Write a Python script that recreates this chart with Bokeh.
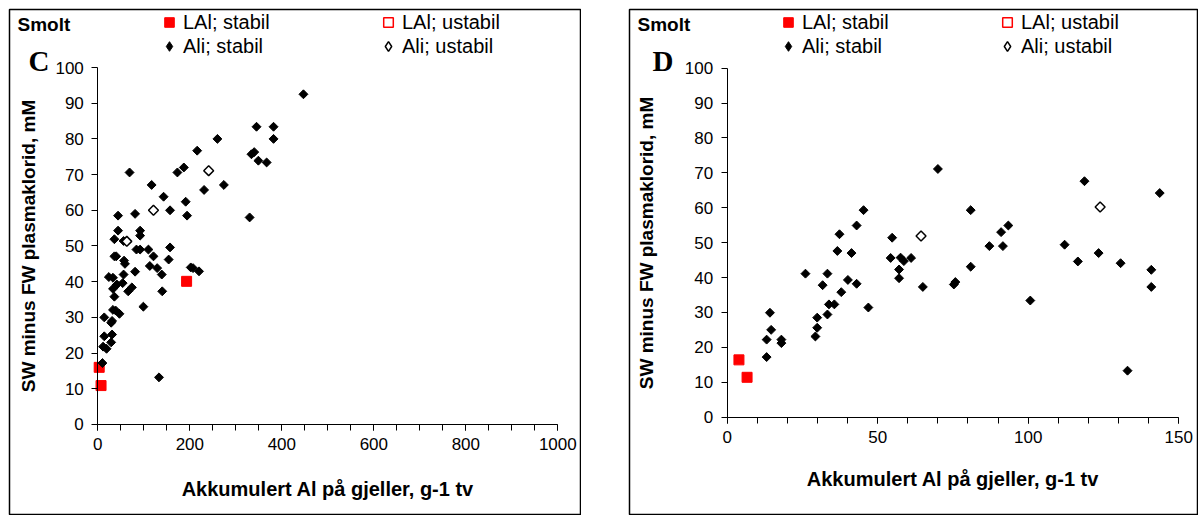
import math

from bokeh.embed import file_html
from bokeh.layouts import column, row
from bokeh.models import Label, Legend, LegendItem, Range1d, SingleIntervalTicker, Spacer
from bokeh.plotting import figure
from bokeh.resources import INLINE

# panel C: akkumulert Al, skala 0-1000
c_lal_stabil_x = [3, 7, 193]
c_lal_stabil_y = [16, 10.9, 40.1]
c_lal_ustabil_x = []
c_lal_ustabil_y = []
c_ali_stabil_x = [447, 345, 382, 260, 382, 216, 334, 340, 349, 367, 69, 173, 187, 117, 274, 231,
                  143, 191, 157, 44, 81, 194, 330, 44, 92, 92, 36, 56, 84, 92, 110, 157, 36, 40,
                  121, 57, 59, 154, 81, 113, 129, 139, 202, 207, 220, 24, 33, 56, 41.5, 33, 54,
                  66, 74, 36, 140, 99, 33, 39, 47, 14, 31, 29, 14, 31, 29, 11.5, 19, 10, 133]
c_ali_stabil_y = [92.5, 83.4, 83.4, 80, 80, 76.7, 75.7, 76.3, 73.9, 73.4, 70.6, 70.6, 72, 67.1, 67.1,
                  65.7, 63.8, 62.4, 60, 58.5, 59, 58.5, 58, 54.3, 54.3, 52.9, 51.9, 51.4, 49, 49, 49,
                  49.6, 47.1, 47.1, 47.1, 45.9, 45, 46.2, 42.8, 44.4, 43.8, 42, 44, 43.8, 42.9, 41.3,
                  41.1, 42, 39.2, 38, 39.6, 37.3, 38.4, 35.8, 37.3, 33, 32.1, 31.9, 31, 30, 29, 28.5,
                  24.7, 25.2, 23, 21.8, 21.2, 17.2, 13.2]
c_ali_ustabil_x = [241, 121, 63]
c_ali_ustabil_y = [71.1, 60, 51.3]

# panel D: akkumulert Al, skala 0-150
d_lal_stabil_x = [3.9, 6.6]
d_lal_stabil_y = [16.4, 11.4]
d_lal_ustabil_x = []
d_lal_ustabil_y = []
d_ali_stabil_x = [13.1, 13.1, 14.2, 14.6, 18, 18, 26, 29.3, 29.9, 29.9, 31.7, 33.3, 33.3, 33.8, 35.6,
                  36.6, 37.3, 37.9, 40.1, 41.3, 43, 43, 45.3, 46.9, 54.8, 54.3, 57.6, 58.7, 57.1,
                  57.1, 61.1, 65, 70, 75.3, 75.8, 80.9, 80.9, 87.1, 91, 91.6, 93.4, 100.7, 112.1,
                  116.5, 118.7, 123.4, 130.7, 133, 140.9, 140.9, 143.7]
d_ali_stabil_y = [17.2, 22.2, 29.9, 25, 22.2, 21.2, 41.1, 23.1, 25.6, 28.5, 37.8, 29.4, 41.1, 32.3,
                  32.3, 47.6, 52.4, 35.8, 39.3, 47, 38.2, 54.9, 59.3, 31.4, 51.4, 45.6, 45.7, 44.7,
                  42.3, 39.8, 45.6, 37.3, 71.1, 38, 38.7, 59.3, 43.1, 49, 53, 49, 54.9, 33.4, 49.4,
                  44.6, 67.6, 47, 44.1, 13.3, 42.2, 37.3, 64.2]
d_ali_ustabil_x = [64.4, 123.9]
d_ali_ustabil_y = [51.9, 60.2]

x_title = "Akkumulert Al på gjeller, g-1 tv"
y_title = "SW minus FW plasmaklorid, mM"

FONT = "Liberation Sans"
NAN = [math.nan]


def panel(letter, lal_s, lal_u, ali_s, ali_u, width, xr, yr, x_max, x_step, x_minor,
          xt_y, yl_standoff, letter_x, leg_x):
    p = figure(frame_width=width, frame_height=506, min_border=1, min_border_bottom=0,
               x_range=Range1d(*xr), y_range=Range1d(*yr),
               output_backend="svg", toolbar_location=None)
    p.outline_line_color = "black"
    p.outline_line_width = 1.5
    p.grid.visible = False

    # Excel-style axes crossing at 0, drawn inside the framed box
    p.xaxis.fixed_location = 0
    p.yaxis.fixed_location = 0
    p.xaxis.bounds = (0, x_max)
    p.yaxis.bounds = (0, 100)
    p.xaxis.ticker = SingleIntervalTicker(interval=x_step, num_minor_ticks=x_minor)
    p.yaxis.ticker = SingleIntervalTicker(interval=10, num_minor_ticks=0)
    for ax in (p.xaxis[0], p.yaxis[0]):
        ax.axis_line_color = "black"
        ax.major_tick_in = 0
        ax.major_tick_out = 6
        ax.minor_tick_in = 0
        ax.minor_tick_out = 6
        ax.major_tick_line_color = "black"
        ax.minor_tick_line_color = "black"
        ax.major_label_text_font = FONT
        ax.major_label_text_font_size = "17px"
        ax.major_label_text_color = "black"
        ax.major_label_standoff = 8
    p.yaxis.minor_tick_line_color = None
    p.yaxis.axis_label = y_title
    p.yaxis.axis_label_text_font = FONT
    p.yaxis.axis_label_text_font_size = "19px"
    p.yaxis.axis_label_text_font_style = "bold"
    p.yaxis.axis_label_text_color = "black"
    p.yaxis.axis_label_standoff = yl_standoff

    p.scatter(lal_s[0], lal_s[1], marker="square", size=10, color="#ff0000")
    p.scatter(lal_u[0], lal_u[1], marker="square", size=7, fill_color="white",
              line_color="#ff0000", line_width=1.5)
    p.scatter(ali_s[0], ali_s[1], marker="square", angle=math.pi / 4, size=6.3, color="black")
    p.scatter(ali_u[0], ali_u[1], marker="square", angle=math.pi / 4, size=7,
              fill_color="white", line_color="black", line_width=1.5)

    # legend keys (no points of their own)
    k1 = p.scatter(NAN, NAN, marker="square", color="#ff0000")
    k2 = p.scatter(NAN, NAN, marker="square", fill_color="white", line_color="#ff0000",
                   line_width=1.5)
    k3 = p.scatter(NAN, NAN, marker="diamond", color="black")
    k4 = p.scatter(NAN, NAN, marker="diamond", fill_color="white", line_color="black",
                   line_width=1.5)

    legend = Legend(items=[LegendItem(label="LAl; stabil", renderers=[k1]),
                           LegendItem(label="LAl; ustabil", renderers=[k2]),
                           LegendItem(label="Ali; stabil", renderers=[k3]),
                           LegendItem(label="Ali; ustabil", renderers=[k4])],
                    orientation="horizontal", ncols=2, location=(leg_x, 457))
    legend.border_line_color = None
    legend.background_fill_alpha = 0
    legend.padding = 0
    legend.margin = 0
    legend.spacing = 0
    legend.glyph_width = 24
    legend.glyph_height = 24
    legend.label_standoff = 2
    legend.label_width = 193
    legend.label_text_font = FONT
    legend.label_text_font_size = "20px"
    legend.label_text_color = "black"
    p.add_layout(legend)

    p.add_layout(Label(x=8, y=491, x_units="screen", y_units="screen", text="Smolt",
                       text_baseline="alphabetic",
                       text_font=FONT, text_font_size="19px", text_font_style="bold",
                       text_color="black"))
    p.add_layout(Label(x=letter_x, y=455, x_units="screen", y_units="screen", text=letter,
                       text_baseline="alphabetic",
                       text_font="Liberation Serif", text_font_size="29px",
                       text_font_style="bold", text_color="black"))
    p.add_layout(Label(x=x_max / 2, y=xt_y, x_units="data", y_units="screen", text=x_title,
                       text_align="center", text_baseline="middle",
                       text_font=FONT, text_font_size="20px", text_font_style="bold",
                       text_color="black"))
    return p


pc = panel("C", (c_lal_stabil_x, c_lal_stabil_y), (c_lal_ustabil_x, c_lal_ustabil_y),
           (c_ali_stabil_x, c_ali_stabil_y), (c_ali_ustabil_x, c_ali_ustabil_y),
           571, (-192, 1049.3), (-25.5, 116.25), 1000, 200, 4, 27, 13, 19, 148)
pd_ = panel("D", (d_lal_stabil_x, d_lal_stabil_y), (d_lal_ustabil_x, d_lal_ustabil_y),
            (d_ali_stabil_x, d_ali_stabil_y), (d_ali_ustabil_x, d_ali_ustabil_y),
            568, (-32.46, 156.25), (-28.2, 116.8), 150, 50, 5, 37, 25, 23, 147)

layout = column(Spacer(width=1198, height=8),
                row(Spacer(width=8, height=507), pc, Spacer(width=47, height=507), pd_))

open("out.html", "w").write(file_html(layout, INLINE))
